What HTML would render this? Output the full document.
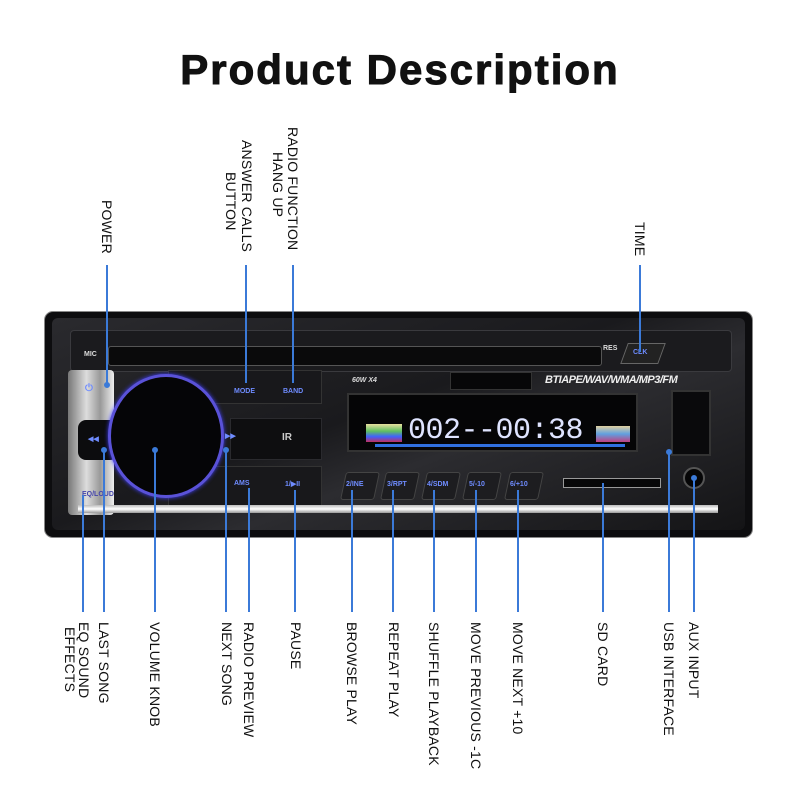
<!DOCTYPE html>
<html><head><meta charset="utf-8"><style>
body{margin:0;width:800px;height:800px;background:#fff;overflow:hidden;font-family:"Liberation Sans",sans-serif}
.a{position:absolute}
.t{position:absolute;writing-mode:vertical-rl;font-size:14px;line-height:15px;color:#111;white-space:nowrap;letter-spacing:0.2px}
.s{position:absolute;font-size:7px;color:#6f8cff;font-weight:bold;white-space:nowrap}
.btn{position:absolute;background:#1d1d20;border:1px solid #444;border-radius:3px;transform:skewX(-12deg)}
</style></head><body>
<div class="a" style="left:0;top:46px;width:800px;text-align:center;font-size:42px;font-weight:bold;color:#111;letter-spacing:2px;-webkit-text-stroke:1px #111">Product Description</div>

<!-- device -->
<div class="a" style="left:44px;top:311px;width:709px;height:227px;background:#0d0d0f;border-radius:9px;border:1px solid #888;box-sizing:border-box"></div>
<div class="a" style="left:52px;top:318px;width:693px;height:212px;background:linear-gradient(160deg,#2a2a2e 0%,#1a1a1d 45%,#2c2c30 60%,#141416 100%);border-radius:6px"></div>
<div class="a" style="left:70px;top:330px;width:660px;height:40px;background:#1b1b1e;border:1px solid #3a3a3e;border-radius:4px"></div>
<div class="a" style="left:108px;top:346px;width:492px;height:18px;background:#0a0a0b;border:1px solid #555;border-radius:3px"></div>
<div class="s" style="left:84px;top:351px;color:#ddd">MIC</div>
<div class="s" style="left:603px;top:345px;color:#ddd">RES</div>
<div class="a" style="left:624px;top:343px;width:36px;height:19px;background:#222;border:1px solid #666;transform:skewX(-20deg)"></div>
<div class="s" style="left:633px;top:349px">CLK</div>
<!-- silver left -->
<div class="a" style="left:68px;top:370px;width:46px;height:145px;background:linear-gradient(90deg,#777,#ddd 40%,#999 70%,#eee);border-radius:4px"></div>
<div class="a" style="left:78px;top:420px;width:40px;height:40px;background:#0c0c0e;border-radius:8px"></div>
<div class="s" style="left:88px;top:435px">◀◀</div>
<div class="s" style="left:85px;top:383px;font-size:10px">⏻</div>
<div class="s" style="left:82px;top:491px;color:#44a">EQ/LOUD</div>
<!-- panels -->
<div class="a" style="left:168px;top:370px;width:152px;height:32px;background:#18181b;border:1px solid #333"></div>
<div class="a" style="left:168px;top:466px;width:152px;height:40px;background:#18181b;border:1px solid #333"></div>
<div class="a" style="left:230px;top:418px;width:90px;height:40px;background:#0e0e10;border:1px solid #2a2a2e"></div>
<div class="s" style="left:234px;top:388px">MODE</div>
<div class="s" style="left:283px;top:388px">BAND</div>
<div class="s" style="left:234px;top:480px">AMS</div>
<div class="s" style="left:285px;top:480px">1/▶II</div>
<div class="s" style="left:282px;top:432px;color:#ccc;font-size:10px">IR</div>
<!-- knob -->
<div class="a" style="left:108px;top:374px;width:116px;height:124px;border-radius:50%;background:#050507;border:3px solid #5a52d8;box-shadow:0 0 4px #4040ff;box-sizing:border-box"></div>
<div class="s" style="left:225px;top:432px">▶▶</div>
<!-- display area -->
<div class="s" style="left:352px;top:377px;color:#ddd;font-style:italic">60W X4</div>
<div class="a" style="left:450px;top:372px;width:80px;height:16px;background:#070708;border:1px solid #333"></div>
<div class="a" style="left:545px;top:374px;font-size:11px;color:#eee;font-style:italic;font-weight:bold;letter-spacing:-0.5px;white-space:nowrap">BTIAPE/WAV/WMA/MP3/FM</div>
<div class="a" style="left:347px;top:393px;width:291px;height:59px;background:#050506;border:2px solid #333;box-sizing:border-box"></div>
<div class="a" style="left:408px;top:414px;font-family:'Liberation Mono',monospace;font-size:30px;color:#dfe4ff;letter-spacing:-0.5px">002--00:38</div>
<div class="a" style="left:366px;top:424px;width:36px;height:18px;background:linear-gradient(180deg,#e8e0a0,#60c060 40%,#4060ff 70%,#c03060)"></div>
<div class="a" style="left:596px;top:426px;width:34px;height:16px;background:linear-gradient(180deg,#e0d0a0,#60a0e0 50%,#c04080)"></div>
<div class="a" style="left:375px;top:444px;width:250px;height:3px;background:#3070e0"></div>
<!-- buttons -->
<div class="btn" style="left:343px;top:472px;width:32px;height:26px"></div>
<div class="btn" style="left:383px;top:472px;width:32px;height:26px"></div>
<div class="btn" style="left:424px;top:472px;width:32px;height:26px"></div>
<div class="btn" style="left:465px;top:472px;width:32px;height:26px"></div>
<div class="btn" style="left:507px;top:472px;width:32px;height:26px"></div>
<div class="s" style="left:346px;top:481px">2/INE</div>
<div class="s" style="left:387px;top:481px">3/RPT</div>
<div class="s" style="left:427px;top:481px">4/SDM</div>
<div class="s" style="left:469px;top:481px">5/-10</div>
<div class="s" style="left:510px;top:481px">6/+10</div>
<div class="a" style="left:563px;top:478px;width:96px;height:8px;background:#070708;border:1px solid #999"></div>
<div class="a" style="left:671px;top:390px;width:40px;height:66px;background:#0a0a0c;border:2px solid #333;box-sizing:border-box"></div>
<div class="a" style="left:683px;top:467px;width:22px;height:22px;border-radius:50%;background:#050506;border:2px solid #555;box-sizing:border-box"></div>
<div class="a" style="left:78px;top:505px;width:640px;height:8px;background:linear-gradient(180deg,#bbb,#fff,#999)"></div>

<!-- connector lines -->
<svg class="a" style="left:0;top:0" width="800" height="800">
<g stroke="#3b7ad8" stroke-width="2" fill="#3b7ad8">
<line x1="107" y1="265" x2="107" y2="385"/><circle cx="107" cy="385" r="2"/>
<line x1="246" y1="265" x2="246" y2="383"/>
<line x1="293" y1="265" x2="293" y2="383"/>
<line x1="640" y1="265" x2="640" y2="352"/>
<line x1="83" y1="495" x2="83" y2="612"/>
<line x1="104" y1="450" x2="104" y2="612"/><circle cx="104" cy="450" r="2"/>
<line x1="155" y1="450" x2="155" y2="612"/><circle cx="155" cy="450" r="2"/>
<line x1="226" y1="450" x2="226" y2="612"/><circle cx="226" cy="450" r="2"/>
<line x1="249" y1="488" x2="249" y2="612"/>
<line x1="295" y1="490" x2="295" y2="612"/>
<line x1="352" y1="490" x2="352" y2="612"/>
<line x1="393" y1="490" x2="393" y2="612"/>
<line x1="434" y1="490" x2="434" y2="612"/>
<line x1="476" y1="490" x2="476" y2="612"/>
<line x1="518" y1="490" x2="518" y2="612"/>
<line x1="603" y1="483" x2="603" y2="612"/>
<line x1="669" y1="452" x2="669" y2="612"/><circle cx="669" cy="452" r="2"/>
<line x1="694" y1="478" x2="694" y2="612"/><circle cx="694" cy="478" r="2"/>
</g></svg>

<!-- top labels -->
<div class="t" style="left:99px;top:200px">POWER</div>
<div class="t" style="left:239px;top:140px">ANSWER CALLS</div>
<div class="t" style="left:223px;top:172px">BUTTON</div>
<div class="t" style="left:285px;top:127px">RADIO FUNCTION</div>
<div class="t" style="left:270px;top:152px">HANG UP</div>
<div class="t" style="left:632px;top:222px">TIME</div>

<!-- bottom labels -->
<div class="t" style="left:76px;top:622px">EQ SOUND</div>
<div class="t" style="left:62px;top:627px">EFFECTS</div>
<div class="t" style="left:96px;top:622px">LAST SONG</div>
<div class="t" style="left:147px;top:622px">VOLUME KNOB</div>
<div class="t" style="left:219px;top:622px">NEXT SONG</div>
<div class="t" style="left:241px;top:622px">RADIO PREVIEW</div>
<div class="t" style="left:288px;top:622px">PAUSE</div>
<div class="t" style="left:344px;top:622px">BROWSE PLAY</div>
<div class="t" style="left:386px;top:622px">REPEAT PLAY</div>
<div class="t" style="left:426px;top:622px">SHUFFLE PLAYBACK</div>
<div class="t" style="left:468px;top:622px">MOVE PREVIOUS -1C</div>
<div class="t" style="left:510px;top:622px">MOVE NEXT +10</div>
<div class="t" style="left:595px;top:622px">SD CARD</div>
<div class="t" style="left:661px;top:622px">USB INTERFACE</div>
<div class="t" style="left:686px;top:622px">AUX INPUT</div>
</body></html>
